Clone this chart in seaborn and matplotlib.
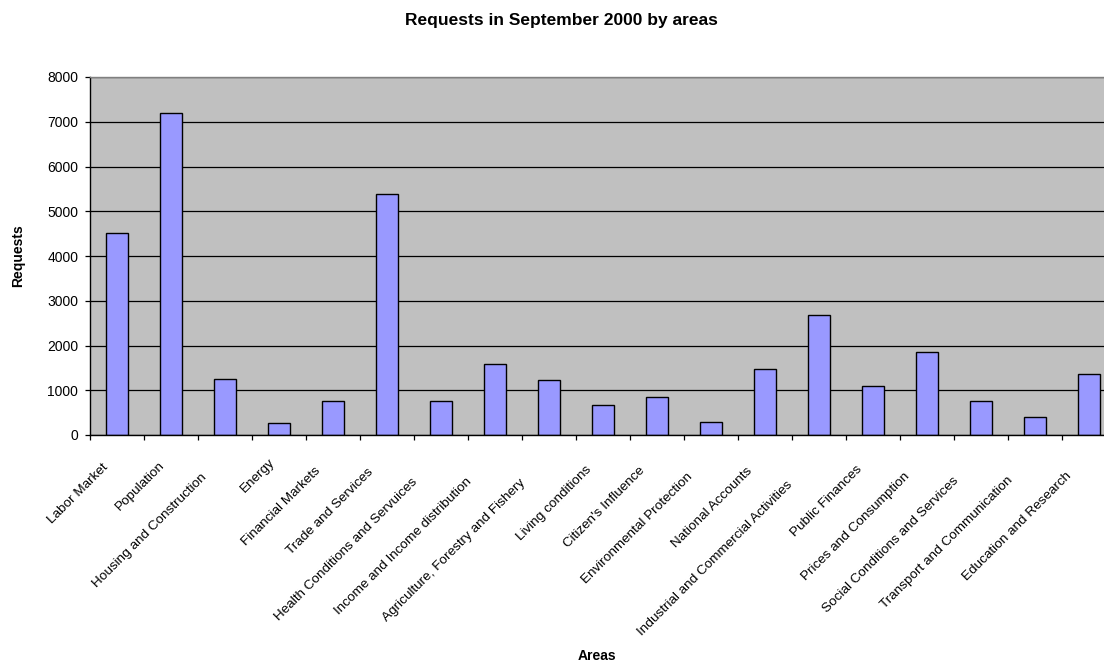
import matplotlib
matplotlib.use("Agg")
import matplotlib.pyplot as plt
import matplotlib.transforms as mtransforms
import seaborn as sns
import pandas as pd
import numpy as np

areas = [
    "Labor Market", "Population", "Housing and Construction", "Energy",
    "Financial Markets", "Trade and Services", "Health Conditions and Servuices",
    "Income and Income distribution", "Agriculture, Forestry and Fishery",
    "Living conditions", "Citizen's Influence", "Environmental Protection",
    "National Accounts", "Industrial and Commercial Activities", "Public Finances",
    "Prices and Consumption", "Social Conditions and Services",
    "Transport and Communication", "Education and Research",
]
requests = [4520, 7200, 1250, 275, 765, 5390, 765, 1590, 1235,
            660, 860, 290, 1465, 2690, 1100, 1850, 770, 405, 1365]
yticks = [0, 1000, 2000, 3000, 4000, 5000, 6000, 7000, 8000]

title = "Requests in September 2000 by areas"
xlabel = "Areas"
ylabel = "Requests"

sns.set_theme(style="white")
plt.rcParams["font.family"] = ["Liberation Sans", "DejaVu Sans"]
plt.rcParams["text.color"] = "black"
plt.rcParams["xtick.color"] = "black"
plt.rcParams["ytick.color"] = "black"
plt.rcParams["xtick.labelcolor"] = "black"
plt.rcParams["ytick.labelcolor"] = "black"

df = pd.DataFrame({"area": areas, "requests": requests})

W, H = 1104, 664
DPI = 100
fig = plt.figure(figsize=(W / DPI, H / DPI), dpi=DPI)
left_px, top_px, bottom_px = 90, 77, 435
width_px = 54 * len(areas)
ax = fig.add_axes([left_px / W, 1 - bottom_px / H, width_px / W, (bottom_px - top_px) / H])
ax.set_facecolor("#C0C0C0")

sns.barplot(data=df, x="area", y="requests", color="#9999FF", saturation=1,
            edgecolor="black", linewidth=1.0, width=0.41, ax=ax, zorder=3)

ax.set_xlim(-0.5, len(areas) - 0.5)
ax.set_ylim(yticks[0], yticks[-1])
ax.set_yticks(yticks)
ax.set_yticklabels([str(v) for v in yticks], fontsize=10)
ax.yaxis.grid(True, color="black", linewidth=0.9)
ax.xaxis.grid(False)
ax.set_axisbelow(True)

LABEL_FS = 9.7
ax.set_xticks(np.arange(len(areas)))
ax.set_xticklabels(areas, rotation=45, ha="right", va="baseline",
                   rotation_mode="anchor", fontsize=LABEL_FS)
ax.set_xticks(np.arange(-0.5, len(areas)), minor=True)
ax.tick_params(axis="x", which="major", length=0, pad=0)
ax.tick_params(axis="x", which="minor", length=3.5, width=0.9, color="black", bottom=True)
ax.tick_params(axis="y", length=3.5, width=0.9, color="black", pad=5, left=True)

# place rotated labels the way the original spreadsheet chart does
renderer = fig.canvas.get_renderer()
for lab in ax.get_xticklabels():
    probe = fig.text(0, 0, lab.get_text(), fontsize=LABEL_FS)
    L = probe.get_window_extent(renderer).width
    probe.remove()
    a = 10.5 + 0.186 * L          # shift along the text direction
    c = 15.0                      # perpendicular component
    dx = (c - a * np.sqrt(2)) / 2 + 7 - 5
    dy = (c + a * np.sqrt(2)) / 2 + 7
    off = mtransforms.ScaledTranslation(dx / DPI, -dy / DPI, fig.dpi_scale_trans)
    lab.set_transform(ax.get_xaxis_transform() + off)

for side in ["left", "bottom"]:
    ax.spines[side].set_color("black")
    ax.spines[side].set_linewidth(1.0)
    ax.spines[side].set_zorder(4)
for side in ["top", "right"]:
    ax.spines[side].set_color("#808080")
    ax.spines[side].set_linewidth(1.0)
    ax.spines[side].set_zorder(4)

ax.set_xlabel("")
ax.set_ylabel("")
fig.text(561 / W, 1 - 21 / H, title, ha="center", va="center",
         fontsize=12.5, fontweight="bold", color="black")
fig.text(597 / W, 1 - 656 / H, xlabel, ha="center", va="center",
         fontsize=10, fontweight="bold", color="black")
fig.text(18 / W, 1 - 256 / H, ylabel, ha="center", va="center",
         rotation=90, fontsize=10, fontweight="bold", color="black")

fig.savefig("out.png", dpi=DPI)
